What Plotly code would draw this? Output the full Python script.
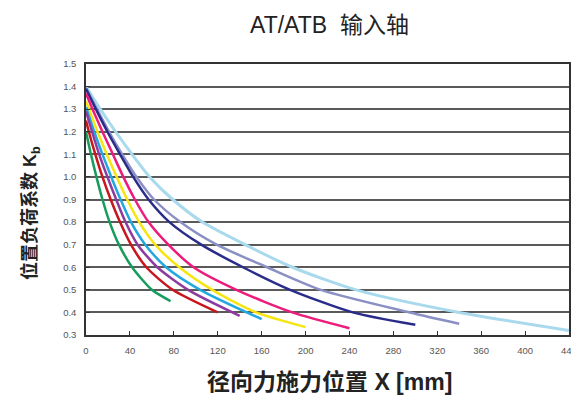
import plotly.graph_objects as go

# position load factor curves
green_x = [0, 4.5, 9.5, 15, 21.5, 30, 42, 60, 77]
green_y = [1.20, 1.10, 1.00, 0.90, 0.80, 0.70, 0.60, 0.50, 0.45]

red_x = [0, 2.6, 8.5, 15, 22.5, 31, 41, 55, 79, 120]
red_y = [1.25, 1.20, 1.10, 1.00, 0.90, 0.80, 0.70, 0.60, 0.50, 0.40]

purple_x = [0, 5.5, 12, 19.5, 27.5, 36, 47, 65, 93, 140]
purple_y = [1.29, 1.20, 1.10, 1.00, 0.90, 0.80, 0.70, 0.60, 0.50, 0.385]

cyan_x = [0, 7.5, 15, 23, 31.5, 41, 54, 73, 104, 160]
cyan_y = [1.31, 1.20, 1.10, 1.00, 0.90, 0.80, 0.70, 0.60, 0.50, 0.37]

yellow_x = [0, 10.5, 19, 28, 37.5, 48.5, 63, 85, 115, 155, 200]
yellow_y = [1.335, 1.20, 1.10, 1.00, 0.90, 0.80, 0.70, 0.60, 0.50, 0.40, 0.335]

magenta_x = [0, 6, 15, 24.5, 34, 44.5, 57, 75, 98, 137, 188, 240]
magenta_y = [1.37, 1.30, 1.20, 1.10, 1.00, 0.90, 0.80, 0.70, 0.60, 0.50, 0.40, 0.33]

navy_x = [0, 9, 19.5, 31, 43, 57, 76, 105, 143, 186, 243, 300]
navy_y = [1.39, 1.30, 1.20, 1.10, 1.00, 0.90, 0.80, 0.70, 0.60, 0.50, 0.40, 0.345]

lavender_x = [0, 10, 21, 33, 46, 62, 86, 119, 165, 214, 295, 340]
lavender_y = [1.395, 1.30, 1.20, 1.10, 1.00, 0.90, 0.80, 0.70, 0.60, 0.50, 0.40, 0.35]

lightblue_x = [0, 13, 27, 42, 58, 79, 106, 145, 188, 246, 340, 440]
lightblue_y = [1.40, 1.30, 1.20, 1.10, 1.00, 0.90, 0.80, 0.70, 0.60, 0.50, 0.40, 0.32]

x_ticks = [0, 40, 80, 120, 160, 200, 240, 280, 320, 360, 400, 440]
y_ticks = [0.3, 0.4, 0.5, 0.6, 0.7, 0.8, 0.9, 1.0, 1.1, 1.2, 1.3, 1.4, 1.5]

series = [
    (lightblue_x, lightblue_y, "#a9d9ec", 3),
    (lavender_x, lavender_y, "#8b90c4", 2.5),
    (navy_x, navy_y, "#2a2c8a", 2.5),
    (magenta_x, magenta_y, "#ec1b7c", 2.5),
    (yellow_x, yellow_y, "#f7e512", 2.5),
    (cyan_x, cyan_y, "#22a7e0", 2.5),
    (purple_x, purple_y, "#8d3b9e", 2.5),
    (red_x, red_y, "#c8161d", 2.5),
    (green_x, green_y, "#169c5c", 2.5),
]

fig = go.Figure()
for xs, ys, col, w in series:
    fig.add_trace(go.Scatter(x=xs, y=ys, mode="lines",
                             line=dict(color=col, width=w, shape="spline", smoothing=0.7),
                             showlegend=False))

font_family = "Liberation Sans, Noto Sans CJK SC, sans-serif"

# the page body adds an 8px offset, so the figure is a bit smaller than the window
fig.update_layout(
    width=571, height=397,
    margin=dict(l=78, r=10, t=56, b=70),
    paper_bgcolor="white", plot_bgcolor="white",
    font=dict(family=font_family, color="#333"),
)

# titles as annotations so the plot area stays where the reference has it
fig.add_annotation(text="AT/ATB  输入轴", xref="paper", yref="paper", x=0.505, y=1.144,
                   xanchor="center", yanchor="middle", showarrow=False,
                   font=dict(size=23, color="#222"))
fig.add_annotation(text="<b>径向力施力位置 X [mm]</b>", xref="paper", yref="paper", x=0.505, y=-0.173,
                   xanchor="center", yanchor="middle", showarrow=False,
                   font=dict(size=23, color="#222"))
fig.add_annotation(text="<b>位置负荷系数 K<sub>b</sub></b>", xref="paper", yref="paper", x=-0.114, y=0.45,
                   xanchor="center", yanchor="middle", showarrow=False, textangle=-90,
                   font=dict(size=18, color="#222"))

fig.update_xaxes(
    range=[0, 440], tickvals=x_ticks, ticks="inside", ticklen=4, tickcolor="#333",
    showgrid=False, showline=True, linecolor="#333", linewidth=1.5, mirror=True,
    tickfont=dict(size=9.5, color="#555"), zeroline=False, automargin=False,
    ticklabelstandoff=6, ticklabeloverflow="allow",
)
fig.update_yaxes(
    range=[0.3, 1.5], tickvals=y_ticks, tickformat=".1f", ticks="inside", ticklen=4,
    tickcolor="#333", showgrid=True, gridcolor="#5a5a5a", gridwidth=1.6,
    showline=True, linecolor="#333", linewidth=1.5, mirror=True,
    tickfont=dict(size=9.5, color="#555"), zeroline=False, automargin=False,
    ticklabelstandoff=6,
)

fig.write_html("out.html")
